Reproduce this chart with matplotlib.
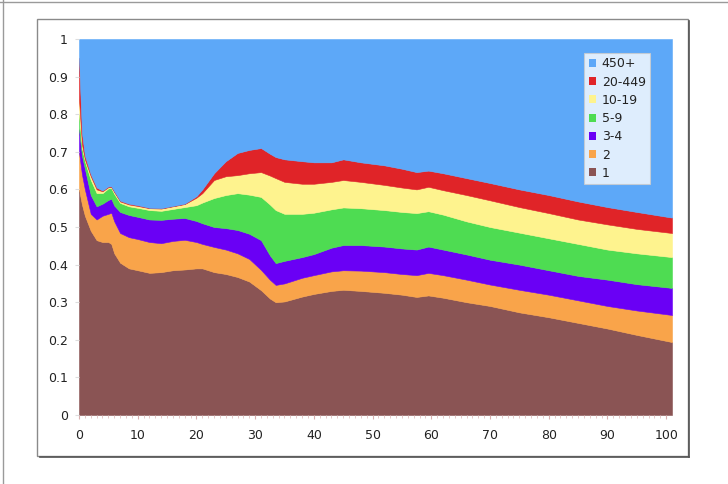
import numpy as np
import matplotlib
matplotlib.use("Agg")
import matplotlib.pyplot as plt
from matplotlib.patches import Rectangle, Patch
from matplotlib.lines import Line2D

# x positions (percent)
x = [0, 0.5, 1, 2, 3, 4, 5, 5.5, 6, 7, 8.5, 10, 12, 14, 16, 18, 20, 21, 23, 25, 27, 29,
     31, 32.5, 33.5, 35, 38, 40, 43, 45, 48, 52, 55, 57.5, 59.5, 62, 66, 70, 75, 80,
     85, 90, 95, 101]

# cumulative top of each stacked layer
top_1 = [0.60, 0.56, 0.53, 0.49, 0.465, 0.46, 0.46, 0.455, 0.43, 0.405, 0.39, 0.385, 0.378,
         0.38, 0.385, 0.387, 0.39, 0.39, 0.38, 0.375, 0.367, 0.355, 0.332, 0.31, 0.30, 0.302,
         0.315, 0.322, 0.33, 0.333, 0.33, 0.325, 0.32, 0.314, 0.318, 0.312, 0.30, 0.29, 0.273,
         0.26, 0.245, 0.23, 0.213, 0.194]
top_2 = [0.70, 0.64, 0.60, 0.535, 0.52, 0.53, 0.535, 0.538, 0.515, 0.484, 0.473, 0.468, 0.46,
         0.457, 0.463, 0.466, 0.46, 0.455, 0.447, 0.44, 0.43, 0.415, 0.386, 0.36, 0.346, 0.35,
         0.365, 0.372, 0.382, 0.385, 0.384, 0.38, 0.375, 0.372, 0.378, 0.372, 0.36, 0.347,
         0.333, 0.32, 0.305, 0.29, 0.278, 0.266]
top_3_4 = [0.76, 0.69, 0.655, 0.585, 0.555, 0.562, 0.572, 0.575, 0.557, 0.54, 0.532, 0.527, 0.52,
           0.519, 0.522, 0.524, 0.516, 0.51, 0.50, 0.497, 0.492, 0.482, 0.465, 0.425, 0.404,
           0.41, 0.42, 0.428, 0.445, 0.452, 0.452, 0.448, 0.443, 0.44, 0.448, 0.44, 0.427,
           0.413, 0.40, 0.385, 0.37, 0.36, 0.348, 0.338]
top_5_9 = [0.80, 0.71, 0.675, 0.625, 0.59, 0.59, 0.603, 0.603, 0.588, 0.564, 0.555, 0.551, 0.545,
           0.543, 0.548, 0.553, 0.558, 0.565, 0.577, 0.585, 0.59, 0.586, 0.58, 0.56, 0.545,
           0.535, 0.535, 0.538, 0.547, 0.552, 0.55, 0.545, 0.54, 0.537, 0.542, 0.533, 0.515,
           0.50, 0.485, 0.47, 0.455, 0.44, 0.43, 0.42]
top_10_19 = [0.84, 0.72, 0.68, 0.635, 0.60, 0.595, 0.606, 0.606, 0.593, 0.568, 0.56, 0.556,
             0.55, 0.549, 0.555, 0.561, 0.578, 0.59, 0.625, 0.635, 0.638, 0.643, 0.646, 0.637,
             0.63, 0.62, 0.615, 0.615, 0.62, 0.625, 0.62, 0.612, 0.605, 0.60, 0.607, 0.598,
             0.585, 0.571, 0.553, 0.537, 0.52, 0.507, 0.495, 0.484]
top_20_449 = [0.95, 0.75, 0.69, 0.64, 0.605, 0.597, 0.608, 0.608, 0.595, 0.57, 0.562, 0.558,
              0.551, 0.55, 0.556, 0.562, 0.582, 0.60, 0.643, 0.675, 0.697, 0.705, 0.71, 0.695,
              0.686, 0.68, 0.675, 0.672, 0.672, 0.68, 0.672, 0.664, 0.655, 0.646, 0.65, 0.643,
              0.63, 0.617, 0.60, 0.585, 0.568, 0.553, 0.54, 0.525]
top_450 = [1.0] * len(x)

labels = ["1", "2", "3-4", "5-9", "10-19", "20-449", "450+"]
colors = ["#8A5454", "#F9A44A", "#6A00F5", "#4EDC52", "#FEF38E", "#E02428", "#5DA8F8"]

x_ticks = [0, 10, 20, 30, 40, 50, 60, 70, 80, 90, 100]
y_ticks = [0, 0.1, 0.2, 0.3, 0.4, 0.5, 0.6, 0.7, 0.8, 0.9, 1]
y_tick_labels = ["0", "0.1", "0.2", "0.3", "0.4", "0.5", "0.6", "0.7", "0.8", "0.9", "1"]

fig = plt.figure(figsize=(7.28, 4.84), dpi=100)
fig.patch.set_facecolor("white")

# frames
fig.add_artist(Rectangle((37 / 728, 1 - 456 / 484), (688 - 37) / 728, (456 - 19) / 484,
                         transform=fig.transFigure, fill=False, edgecolor="#8a8a8a", lw=1.0))
fig.add_artist(Line2D([40 / 728, 689 / 728], [1 - 457 / 484, 1 - 457 / 484],
                      transform=fig.transFigure, color="#555555", lw=1.2))
fig.add_artist(Line2D([689 / 728, 689 / 728], [1 - 457 / 484, 1 - 21 / 484],
                      transform=fig.transFigure, color="#555555", lw=1.2))
fig.add_artist(Line2D([0, 1], [1 - 1.5 / 484, 1 - 1.5 / 484],
                      transform=fig.transFigure, color="#9a9a9a", lw=1.0))
fig.add_artist(Line2D([3 / 728, 3 / 728], [0, 1],
                      transform=fig.transFigure, color="#9a9a9a", lw=1.0))

ax = fig.add_axes([79 / 728, 1 - 415 / 484, (672 - 79) / 728, (415 - 39) / 484])

xa = np.array(x)
tops = [np.array(t) for t in (top_1, top_2, top_3_4, top_5_9, top_10_19, top_20_449, top_450)]
lower = np.zeros_like(xa)
handles = []
for t, lab, col in zip(tops, labels, colors):
    ax.fill_between(xa, lower, t, facecolor=col, edgecolor=col, lw=0.4)
    handles.append(Patch(facecolor=col, edgecolor="none", label=lab))
    lower = t

ax.set_xlim(0, 101)
ax.set_ylim(0, 1)
ax.set_xticks(x_ticks)
ax.set_xticklabels([str(v) for v in x_ticks])
ax.set_xticks(np.arange(0, 101, 1), minor=True)
ax.set_yticks(y_ticks)
ax.set_yticklabels(y_tick_labels)
for s in ax.spines.values():
    s.set_visible(False)
ax.tick_params(axis="x", which="major", length=3, color="#d9b0b0", labelsize=9,
               labelcolor="#222222", pad=7)
ax.tick_params(axis="x", which="minor", length=2, color="#e0c0c0")
ax.tick_params(axis="y", length=3, color="#dddddd", labelsize=9, labelcolor="#222222", pad=5)

leg = ax.legend(handles=handles[::-1], loc="upper right", bbox_to_anchor=(0.963, 0.963),
                frameon=True, fancybox=False, fontsize=9, handlelength=0.6, handleheight=0.6,
                handletextpad=0.45, labelspacing=0.42, borderpad=0.35, borderaxespad=0)
leg.get_frame().set_edgecolor("#cccccc")
leg.get_frame().set_linewidth(0.8)
for txt in leg.get_texts():
    txt.set_color("#222222")

fig.savefig("out.png", dpi=100)
